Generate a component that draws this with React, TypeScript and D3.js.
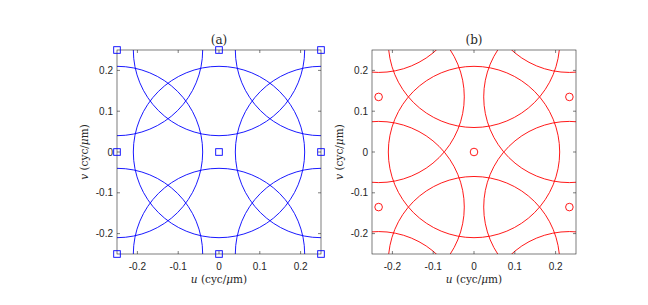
import React from 'react';
import { scaleLinear } from 'd3';

// data
const TICKS = [-0.2, -0.1, 0, 0.1, 0.2];
const TICK_LABELS = ['-0.2', '-0.1', '0', '0.1', '0.2'];
const RADIUS = 0.21;

// square lattice (a)
const SQ_U = [-0.25, 0, 0.25, -0.25, 0, 0.25, -0.25, 0, 0.25];
const SQ_V = [0.25, 0.25, 0.25, 0, 0, 0, -0.25, -0.25, -0.25];

// hexagonal lattice (b)
const HEX_U = [0, 0, 0, 0.2338, 0.2338, -0.2338, -0.2338, 0.2338, 0.2338, -0.2338, -0.2338];
const HEX_V = [0, 0.27, -0.27, 0.135, -0.135, 0.135, -0.135, 0.405, -0.405, 0.405, -0.405];

const W = 648;
const H = 305;
const TOP = 50;
const BOT = 254;
const AX = '#262626';
const SERIF = "'DejaVu Serif', serif";

type PanelProps = {
	id: string;
	left: number;
	title: string;
	us: number[];
	vs: number[];
	color: string;
	marker: 'square' | 'circle';
};

function Panel({ id, left, title, us, vs, color, marker }: PanelProps) {
	const size = BOT - TOP;
	const x = scaleLinear().domain([-0.25, 0.25]).range([left, left + size]);
	const y = scaleLinear().domain([-0.25, 0.25]).range([BOT, TOP]);
	const r = x(RADIUS) - x(0);
	const pts = us.map((u, i) => ({ u, v: vs[i] }));
	const inView = pts.filter((p) => Math.abs(p.u) <= 0.2501 && Math.abs(p.v) <= 0.2501);
	const tl = 3;
	const cx = left + size / 2;
	const ylx = left - 29;
	const yly = (TOP + BOT) / 2;

	return (
		<g>
			<defs>
				<clipPath id={id}>
					<rect x={left} y={TOP} width={size} height={size} />
				</clipPath>
			</defs>
			<rect x={left} y={TOP} width={size} height={size} fill="#fff" />
			<g clipPath={`url(#${id})`}>
				{pts.map((p, i) => (
					<circle key={i} cx={x(p.u)} cy={y(p.v)} r={r} fill="none" stroke={color} strokeWidth={0.9} />
				))}
			</g>
			{/* ticks */}
			{TICKS.map((t) => (
				<g key={t} stroke={AX} strokeWidth={0.6}>
					<line x1={x(t)} x2={x(t)} y1={BOT} y2={BOT - tl} />
					<line x1={x(t)} x2={x(t)} y1={TOP} y2={TOP + tl} />
					<line x1={left} x2={left + tl} y1={y(t)} y2={y(t)} />
					<line x1={left + size} x2={left + size - tl} y1={y(t)} y2={y(t)} />
				</g>
			))}
			<rect x={left} y={TOP} width={size} height={size} fill="none" stroke={AX} strokeWidth={0.6} />
			{/* markers */}
			{inView.map((p, i) =>
				marker === 'square' ? (
					<rect key={i} x={x(p.u) - 3.3} y={y(p.v) - 3.3} width={6.6} height={6.6} fill="none" stroke={color} strokeWidth={0.9} />
				) : (
					<circle key={i} cx={x(p.u)} cy={y(p.v)} r={3.8} fill="none" stroke={color} strokeWidth={0.9} />
				),
			)}
			{/* tick labels */}
			<g fontFamily="'Liberation Sans', Arial, sans-serif" fontSize={10} fill={AX}>
				{TICKS.map((t, i) => (
					<text key={`x${t}`} x={x(t)} y={270} textAnchor="middle">
						{TICK_LABELS[i]}
					</text>
				))}
				{TICKS.map((t, i) => (
					<text key={`y${t}`} x={left - 4} y={y(t) + 3.5} textAnchor="end">
						{TICK_LABELS[i]}
					</text>
				))}
			</g>
			<g fontFamily={SERIF} fontSize={10.5} fill={AX}>
				<text x={cx} y={44} textAnchor="middle" fontSize={12}>
					{title}
				</text>
				<text x={cx} y={283} textAnchor="middle">
					<tspan fontStyle="italic">u</tspan> (cyc/<tspan fontStyle="italic">μ</tspan>m)
				</text>
				<text x={ylx} y={yly} textAnchor="middle" transform={`rotate(-90 ${ylx} ${yly})`}>
					<tspan fontStyle="italic">v</tspan> (cyc/<tspan fontStyle="italic">μ</tspan>m)
				</text>
			</g>
		</g>
	);
}

export default function App() {
	return (
		<svg width={W} height={H} style={{ position: 'absolute', left: 0, top: 0, background: '#fff' }}>
			<rect width={W} height={H} fill="#fff" />
			<Panel id="clipA" left={117} title="(a)" us={SQ_U} vs={SQ_V} color="#0000ff" marker="square" />
			<Panel id="clipB" left={372} title="(b)" us={HEX_U} vs={HEX_V} color="#ff0000" marker="circle" />
		</svg>
	);
}
